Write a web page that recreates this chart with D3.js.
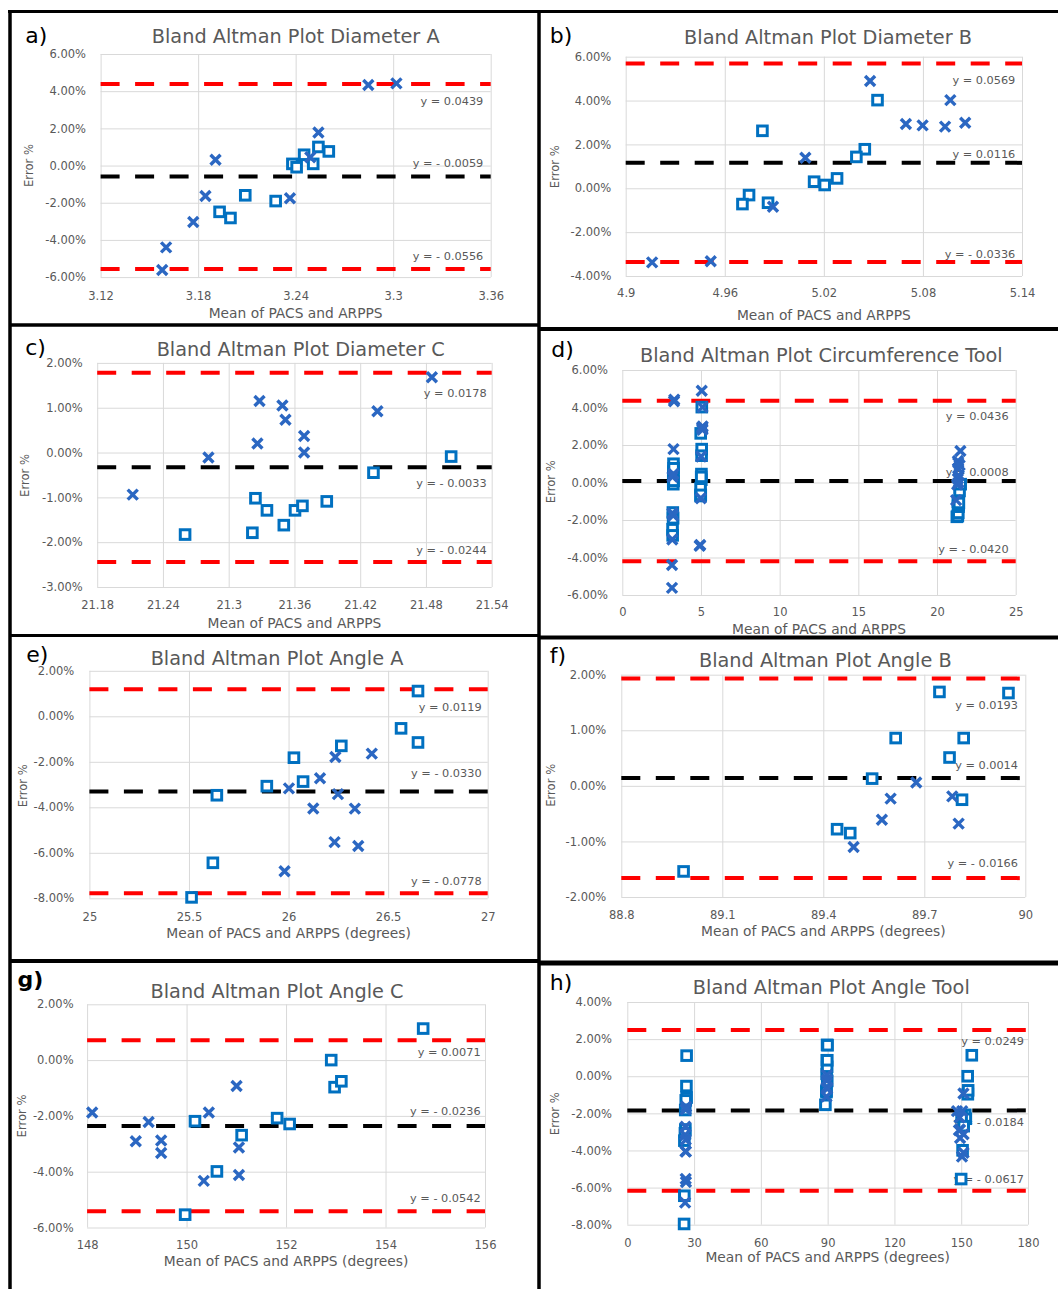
<!DOCTYPE html>
<html>
<head>
<meta charset="utf-8">
<script src="https://cdn.jsdelivr.net/npm/d3@7"></script>
<style>
body { margin: 0; background: #fff; }
</style>
</head>
<body>
<script>
const width = 1058;
const height = 1289;

// ---------------- data : [mean, error %] ----------------
// a) Diameter A
const aSquares = [[3.238,0.09],[3.2406,-0.09],[3.2452,0.58],[3.2508,0.09],[3.254,1.0],[3.2604,0.76],[3.209,-1.6],[3.1932,-2.49],[3.1999,-2.82],[3.2277,-1.91]];
const aCrosses = [[3.2847,4.33],[3.302,4.42],[3.254,1.78],[3.1907,0.31],[3.1845,-1.64],[3.177,-3.04],[3.1603,-4.4],[3.1579,-5.62],[3.2365,-1.76],[3.249,0.45]];
const aLimits = [0.0439, -0.0059, -0.0556];
const aTicksX = [3.12, 3.18, 3.24, 3.3, 3.36];
const aTicksY = [6, 4, 2, 0, -2, -4, -6];

// b) Diameter B
const bSquares = [[4.9828,2.62],[5.0525,4.02],[5.0448,1.78],[5.0397,1.43],[5.028,0.45],[5.0205,0.15],[5.0141,0.30],[4.9747,-0.31],[4.9707,-0.72],[4.9862,-0.66]];
const bCrosses = [[4.916,-3.38],[4.9515,-3.33],[5.048,4.89],[5.0966,4.02],[5.0697,2.93],[5.0798,2.87],[5.0934,2.81],[5.1056,2.99],[5.0088,1.39],[4.9892,-0.84]];
const bLimits = [0.0569, 0.0116, -0.0336];
const bTicksX = [4.9, 4.96, 5.02, 5.08, 5.14];
const bTicksY = [6, 4, 2, 0, -2, -4];

// c) Diameter C
const cSquares = [[21.2602,-1.83],[21.3244,-1.02],[21.3349,-1.29],[21.3216,-1.79],[21.3503,-1.62],[21.3605,-1.29],[21.3673,-1.19],[21.3895,-1.09],[21.4321,-0.45],[21.503,-0.09]];
const cCrosses = [[21.2124,-0.94],[21.2815,-0.11],[21.3281,1.15],[21.3262,0.20],[21.349,1.05],[21.3518,0.73],[21.3688,0.37],[21.3688,0.0],[21.4357,0.92],[21.4854,1.68]];
const cLimits = [0.0178, -0.0033, -0.0244];
const cTicksX = [21.18, 21.24, 21.3, 21.36, 21.42, 21.48, 21.54];
const cTicksY = [2, 1, 0, -1, -2, -3];

// d) Circumference tool = diameters A, B and C together
const dSquares = aSquares.concat(bSquares, cSquares);
const dCrosses = aCrosses.concat(bCrosses, cCrosses);
const dLimits = [0.0436, 0.0008, -0.0420];
const dTicksX = [0, 5, 10, 15, 20, 25];
const dTicksY = [6, 4, 2, 0, -2, -4, -6];

// e) Angle A
const eSquares = [[26.65,1.11],[26.565,-0.53],[26.65,-1.15],[26.265,-1.30],[26.027,-1.82],[26.073,-2.87],[25.891,-3.07],[25.64,-3.47],[25.62,-6.44],[25.513,-7.96]];
const eCrosses = [[26.418,-1.64],[26.235,-1.79],[26.158,-2.72],[26.002,-3.17],[26.248,-3.42],[26.124,-4.05],[26.333,-4.06],[26.231,-5.53],[26.35,-5.70],[25.98,-6.81]];
const eLimits = [0.0119, -0.0330, -0.0778];
const eTicksX = [25, 25.5, 26, 26.5, 27];
const eTicksY = [2, 0, -2, -4, -6, -8];

// f) Angle B
const fSquares = [[88.985,-1.54],[89.441,-0.78],[89.48,-0.85],[89.545,0.13],[89.615,0.86],[89.745,1.69],[89.775,0.51],[89.817,0.86],[89.812,-0.25],[89.95,1.67]];
const fCrosses = [[89.49,-1.10],[89.574,-0.61],[89.6,-0.23],[89.676,0.06],[89.783,-0.19],[89.802,-0.68]];
const fLimits = [0.0193, 0.0014, -0.0166];
const fTicksX = [88.8, 89.1, 89.4, 89.7, 90];
const fTicksY = [2, 1, 0, -1, -2];

// g) Angle C
const gSquares = [[154.757,1.13],[152.908,0.0],[152.976,-0.97],[153.112,-0.76],[151.821,-2.08],[152.072,-2.29],[150.169,-2.19],[151.107,-2.69],[150.61,-3.99],[149.971,-5.54]];
const gCrosses = [[148.102,-1.88],[148.979,-2.91],[149.237,-2.22],[149.489,-2.88],[149.489,-3.33],[150.448,-1.88],[151.005,-0.93],[151.053,-3.13],[151.053,-4.12],[150.346,-4.33]];
const gLimits = [0.0071, -0.0236, -0.0542];
const gTicksX = [148, 150, 152, 154, 156];
const gTicksY = [2, 0, -2, -4, -6];

// h) Angle tool = angles A, B and C together
const hSquares = eSquares.concat(fSquares, gSquares);
const hCrosses = eCrosses.concat(fCrosses, gCrosses);
const hLimits = [0.0249, -0.0184, -0.0617];
const hTicksX = [0, 30, 60, 90, 120, 150, 180];
const hTicksY = [4, 2, 0, -2, -4, -6, -8];

const xTitle1 = "Mean of PACS and ARPPS";
const xTitle2 = "Mean of PACS and ARPPS (degrees)";

// ---------------- layout of each panel ----------------
const panels = [
  {letter:"a)", title:"Bland Altman Plot Diameter A", xTitle:xTitle1, sq:aSquares, cr:aCrosses, lim:aLimits, tx:aTicksX, ty:aTicksY,
   L:100.6, R:490.7, T:54, B:277.1, eqDy:[17,-14,-12.5], eqR:483.3, yTR:86, xTC:295.7, xTitC:312.6, yTitX:28.6, yTitC:165.5,
   letX:25.2, letY:43, titX:295.7, titY:43.1},
  {letter:"b)", title:"Bland Altman Plot Diameter B", xTitle:xTitle1, sq:bSquares, cr:bCrosses, lim:bLimits, tx:bTicksX, ty:bTicksY,
   L:625.7, R:1022, T:56.7, B:276, eqDy:[16,-9,-8], eqR:1015.3, yTR:611.3, xTC:293.3, xTitC:315, yTitX:554.7, yTitC:166.7,
   letX:549.7, letY:42.7, titX:828, titY:44},
  {letter:"c)", title:"Bland Altman Plot Diameter C", xTitle:xTitle1, sq:cSquares, cr:cCrosses, lim:cLimits, tx:cTicksX, ty:cTicksY,
   L:97.2, R:491.7, T:362.9, B:587, eqDy:[20,16,-12], eqR:486.7, yTR:82.7, xTC:605, xTitC:623.2, yTitX:25.2, yTitC:475.4,
   letX:25.2, letY:354.7, titX:300.7, titY:356.1},
  {letter:"d)", title:"Bland Altman Plot Circumference Tool", xTitle:xTitle1, sq:dSquares, cr:dCrosses, lim:dLimits, tx:dTicksX, ty:dTicksY,
   L:622.3, R:1015.7, T:370, B:595, eqDy:[15,-9,-12], eqR:1008.7, yTR:608, xTC:612.3, xTitC:629, yTitX:551.3, yTitC:481.7,
   letX:551.3, letY:356.7, titX:821.3, titY:361.7},
  {letter:"e)", title:"Bland Altman Plot Angle A", xTitle:xTitle2, sq:eSquares, cr:eCrosses, lim:eLimits, tx:eTicksX, ty:eTicksY,
   L:89.4, R:487.7, T:670.8, B:898.3, eqDy:[18,-18,-12], eqR:481.6, yTR:74.2, xTC:917, xTitC:932.8, yTitX:22.8, yTitC:785.7,
   letX:26.2, letY:662.4, titX:277, titY:664.7},
  {letter:"f)", title:"Bland Altman Plot Angle B", xTitle:xTitle2, sq:fSquares, cr:fCrosses, lim:fLimits, tx:fTicksX, ty:fTicksY,
   L:621.3, R:1025.3, T:674.7, B:897, eqDy:[26,-13,-15], eqR:1018, yTR:606.3, xTC:914.7, xTitC:931, yTitX:551.3, yTitC:785.3,
   letX:549.7, letY:663, titX:825.3, titY:667},
  {letter:"g)", title:"Bland Altman Plot Angle C", xTitle:xTitle2, sq:gSquares, cr:gCrosses, lim:gLimits, tx:gTicksX, ty:gTicksY,
   L:87.1, R:485, T:1004.3, B:1227.5, eqDy:[11.5,-15,-13.5], eqR:480.6, yTR:73.6, xTC:1245, xTitC:1261.3, yTitX:21.8, yTitC:1115.9,
   letX:17.4, letY:987.4, titX:277, titY:997.6, bold:true},
  {letter:"h)", title:"Bland Altman Plot Angle Tool", xTitle:xTitle2, sq:hSquares, cr:hCrosses, lim:hLimits, tx:hTicksX, ty:hTicksY,
   L:627.3, R:1028, T:1002, B:1224.7, eqDy:[11,12,-12], eqR:1024, yTR:612, xTC:1243, xTitC:1257, yTitX:554.7, yTitC:1113.7,
   letX:549.7, letY:990.3, titX:831.3, titY:993.7}
];

const font = "'DejaVu Sans', sans-serif";
const grey = "#595959";
const gridColor = "#d9d9d9";
const sqColor = "#0070c0";
const crColor = "#2b67c2";
const tickFs = 11.5, eqFs = 11.3, xTitFs = 13.8, titFs = 19.3;

const svg = d3.select("body").append("svg")
  .attr("width", width).attr("height", height)
  .attr("viewBox", [0, 0, width, height]);

const fmtPct = d => d.toFixed(2) + "%";
const fmtEq = v => "y = " + (v < 0 ? "- " : "") + Math.abs(v).toFixed(4);

panels.forEach(p => {
  const x = d3.scaleLinear().domain(d3.extent(p.tx)).range([p.L, p.R]);
  const y = d3.scaleLinear().domain(d3.extent(p.ty)).range([p.B, p.T]);
  const g = svg.append("g");

  // horizontal grid + y tick labels
  g.append("g").attr("transform", `translate(${p.L},0)`)
    .call(d3.axisLeft(y).tickValues(p.ty).tickFormat(fmtPct)
      .tickSize(-(p.R - p.L)).tickPadding(p.L - p.yTR))
    .call(a => a.select(".domain").remove())
    .call(a => a.selectAll("line").attr("stroke", gridColor))
    .attr("font-family", font).attr("font-size", tickFs)
    .selectAll("text").attr("fill", grey);

  // vertical grid + x tick labels
  g.append("g").attr("transform", `translate(0,${p.B})`)
    .call(d3.axisBottom(x).tickValues(p.tx).tickFormat(d => String(d))
      .tickSize(-(p.B - p.T)).tickPadding(p.xTC - p.B - 0.35 * tickFs))
    .call(a => a.select(".domain").remove())
    .call(a => a.selectAll("line").attr("stroke", gridColor))
    .attr("font-family", font).attr("font-size", tickFs)
    .selectAll("text").attr("fill", grey);

  // mean and limits of agreement
  g.selectAll(".lim").data(p.lim).enter().append("line")
    .attr("x1", x.range()[0]).attr("x2", x.range()[1])
    .attr("y1", d => y(d * 100)).attr("y2", d => y(d * 100))
    .attr("stroke", (d, i) => i === 1 ? "#000" : "#ff0000")
    .attr("stroke-width", 4)
    .attr("stroke-dasharray", "19,15.5");

  g.selectAll(".eq").data(p.lim).enter().append("text")
    .attr("x", p.eqR)
    .attr("y", (d, i) => y(d * 100) + p.eqDy[i] + 0.36 * eqFs)
    .attr("text-anchor", "end")
    .attr("font-family", font).attr("font-size", eqFs)
    .attr("fill", grey)
    .text(fmtEq);

  // square markers
  g.selectAll(".sq").data(p.sq).enter().append("rect")
    .attr("x", d => x(d[0]) - 4.8).attr("y", d => y(d[1]) - 4.8)
    .attr("width", 9.6).attr("height", 9.6)
    .attr("fill", "#fff").attr("stroke", sqColor).attr("stroke-width", 3);

  // cross markers
  g.selectAll(".cr").data(p.cr).enter().append("path")
    .attr("transform", d => `translate(${x(d[0])},${y(d[1])})`)
    .attr("d", "M-5,-5L5,5M-5,5L5,-5")
    .attr("stroke", crColor).attr("stroke-width", 3.4).attr("fill", "none");

  // texts
  g.append("text").attr("x", p.titX).attr("y", p.titY)
    .attr("text-anchor", "middle").attr("font-family", font).attr("font-size", titFs)
    .attr("fill", grey).text(p.title);

  g.append("text").attr("x", (p.L + p.R) / 2).attr("y", p.xTitC + 0.36 * xTitFs)
    .attr("text-anchor", "middle").attr("font-family", font).attr("font-size", xTitFs)
    .attr("fill", grey).text(p.xTitle);

  g.append("text")
    .attr("transform", `translate(${p.yTitX + 4},${p.yTitC}) rotate(-90)`)
    .attr("text-anchor", "middle").attr("font-family", font).attr("font-size", 11.6)
    .attr("fill", grey).text("Error %");

  g.append("text").attr("x", p.letX).attr("y", p.letY)
    .attr("font-family", font).attr("font-size", 22)
    .attr("font-weight", p.bold ? "bold" : "normal")
    .attr("fill", "#000").text(p.letter);
});

// table borders
const borders = [
  [8, 11.5, 1058, 11.5, 3],
  [10, 10, 10, 1289, 3.5],
  [539, 10, 539, 1289, 3.5],
  [10, 325, 539, 325, 3.5],
  [539, 329, 1058, 329, 4],
  [10, 635.5, 539, 635.5, 3],
  [539, 637.5, 1058, 637.5, 4],
  [10, 961, 539, 961, 4],
  [539, 963, 1058, 963, 5]
];
svg.selectAll(".border").data(borders).enter().append("line")
  .attr("x1", d => d[0]).attr("y1", d => d[1])
  .attr("x2", d => d[2]).attr("y2", d => d[3])
  .attr("stroke", "#000").attr("stroke-width", d => d[4]);
</script>
</body>
</html>
